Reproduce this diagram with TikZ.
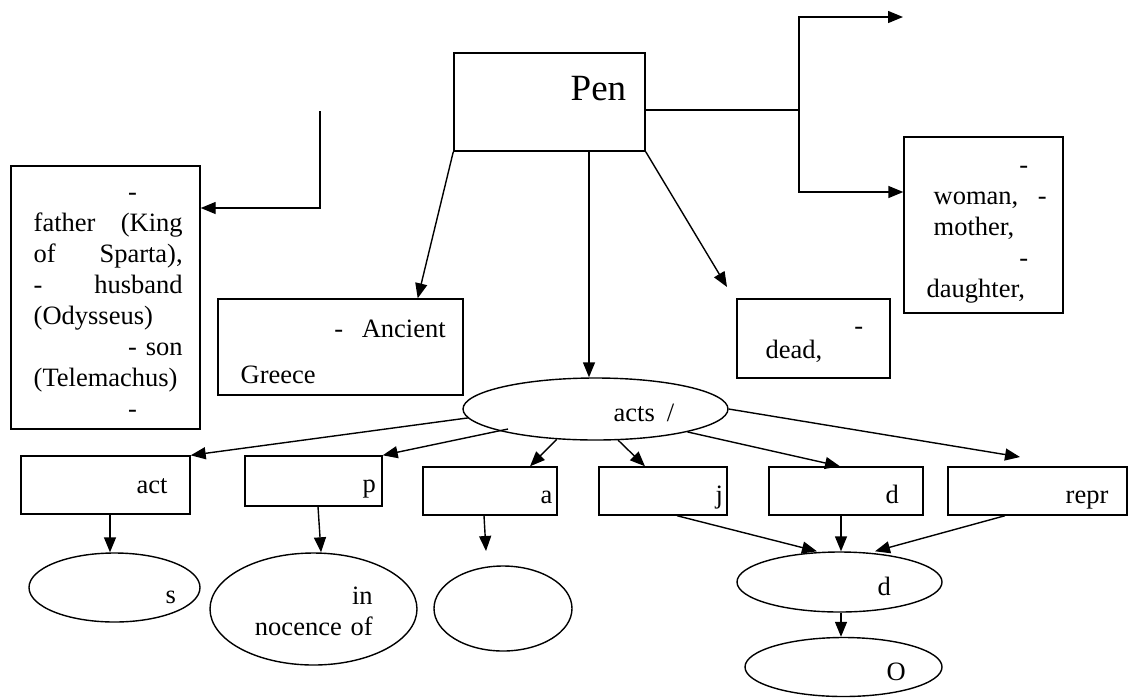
\documentclass[tikz,border=0pt]{standalone}
\usepackage{fontspec}
\setmainfont{Liberation Serif}
\usetikzlibrary{shapes.geometric,arrows.meta}

\begin{document}
\begin{tikzpicture}[x=1pt,y=-1pt,line width=1.4pt,
  box/.style={draw,rectangle,inner sep=0pt},
  oval/.style={draw,ellipse,inner sep=0pt},
  txt/.style={inner sep=0pt,anchor=base west,align=left,font=\fontsize{26.5}{31}\selectfont},
  arr/.style={-{Triangle[length=15pt,width=12pt]}}]
\useasboundingbox (0,0) rectangle (1131,697);
\node[box,minimum width=191,minimum height=98] (pen) at (549.5,102) {};
\node[box,minimum width=189,minimum height=263] (fam) at (105.5,297.5) {};
\node[box,minimum width=245,minimum height=96] (gr) at (340.5,347) {};
\node[box,minimum width=153,minimum height=79] (dead) at (813.5,338.5) {};
\node[box,minimum width=159,minimum height=176] (wom) at (983.5,225) {};
\node[oval,minimum width=265,minimum height=62] (acts) at (595.5,409) {};
\node[box,minimum width=169,minimum height=58] (act) at (105.5,485) {};
\node[box,minimum width=137,minimum height=50] (p) at (313.5,481) {};
\node[box,minimum width=134,minimum height=48] (a) at (490,491) {};
\node[box,minimum width=128,minimum height=48] (j) at (663,491) {};
\node[box,minimum width=154,minimum height=48] (dbox) at (846,491) {};
\node[box,minimum width=179,minimum height=48] (repr) at (1037.5,491) {};
\node[oval,minimum width=171,minimum height=69] (s) at (114.5,587.5) {};
\node[oval,minimum width=207,minimum height=112] (inn) at (313.5,609) {};
\node[oval,minimum width=138,minimum height=85] (empty) at (503,608.5) {};
\node[oval,minimum width=205,minimum height=60] (dell) at (839.5,582) {};
\node[oval,minimum width=197,minimum height=59] (o) at (843.5,667) {};

\node[txt,font=\fontsize{37}{44}\selectfont] (pen-t) at (570,100) {Pen};
\node[txt,text width=149pt] (fam-t) at (33,200) {\hspace*{94.5pt}-\\ father\hfill(King\\ of\hfill Sparta),\\ -\hfill husband\\ (Odysseus)\\ \hfill- son\\ (Telemachus)\\ \hspace*{94.5pt}-};
\node[txt,text width=205pt] (gr-t) at (240,337) {\hfill-\hspace{18.6pt}Ancient\\[15pt]Greece};
\node[txt,text width=100pt] (dead-t) at (765,334) {\hspace*{88.6pt}-\\[-7pt]dead,};
\node[txt,text width=120pt] (wom-t) at (926,173) {\hspace*{92.6pt}-\\ \hspace*{7pt}woman,\hfill-\\ \hspace*{7pt}mother,\\ \hspace*{92.6pt}-\\ daughter,};
\node[txt] (acts-t) at (613,421) {acts\hspace{12pt}/};
\node[txt] (act-t) at (136,493) {act};
\node[txt] (p-t) at (362,492) {p};
\node[txt] (a-t) at (540,503) {a};
\node[txt] (j-t) at (715,503) {j};
\node[txt] (dbox-t) at (885,503) {d};
\node[txt] (repr-t) at (1065,503) {repr};
\node[txt] (s-t) at (165,603) {s};
\node[txt,text width=121pt,align=right] (inn-t) at (251,604) {in\\ nocence of};
\node[txt] (dell-t) at (877,595) {d};
\node[txt] (o-t) at (886,680) {O};

\coordinate (famtop) at (320,111);
\coordinate (split) at (799,110);
\coordinate (upend) at (903,17);
\coordinate (deadin) at (727,287);
\coordinate (reprin) at (1020,457);
\coordinate (emptyin) at (486,551);
\coordinate (actsp) at (508,429);

\draw[arr] (famtop) |- ([yshift=89.5pt]fam.east);
\draw[arr] (pen.south west) -- ([xshift=-46pt]gr.north east);
\draw[arr] ([xshift=39.5pt]pen.south) -- ([xshift=39.5pt]pen.south |- acts.north);
\draw[arr] (pen.south east) -- (deadin);
\draw (pen.east |- split) -- (split);
\draw[arr] (split) |- (upend);
\draw[arr] (split) |- ([yshift=33pt]wom.west);
\draw[arr] (acts.184) -- (act.north east);
\draw[arr] (actsp) -- (p.north east);
\draw[arr] (acts.218) -- ([xshift=40pt]a.north);
\draw[arr] (acts.306) -- ([xshift=-18pt]j.north);
\draw[arr] (acts.-14) -- ([xshift=-6pt]dbox.north);
\draw[arr] (acts.east) -- (reprin);
\draw[arr] ([xshift=4.5pt]act.south) -- ([xshift=-4.5pt]s.north);
\draw[arr] ([xshift=4.5pt]p.south) -- ([xshift=7.5pt]inn.north);
\draw[arr] ([xshift=-6pt]a.south) -- (emptyin);
\draw[arr] ([xshift=14pt]j.south) -- ([xshift=-22.5pt]dell.north);
\draw[arr] ([xshift=-5pt]dbox.south) -- ([xshift=-5pt]dbox.south |- dell.north);
\draw[arr] ([xshift=-32.5pt]repr.south) -- ([xshift=35.5pt]dell.north);
\draw[arr] ([xshift=1.5pt]dell.south) -- ([xshift=1.5pt]dell.south |- o.north);
\end{tikzpicture}
\end{document}
